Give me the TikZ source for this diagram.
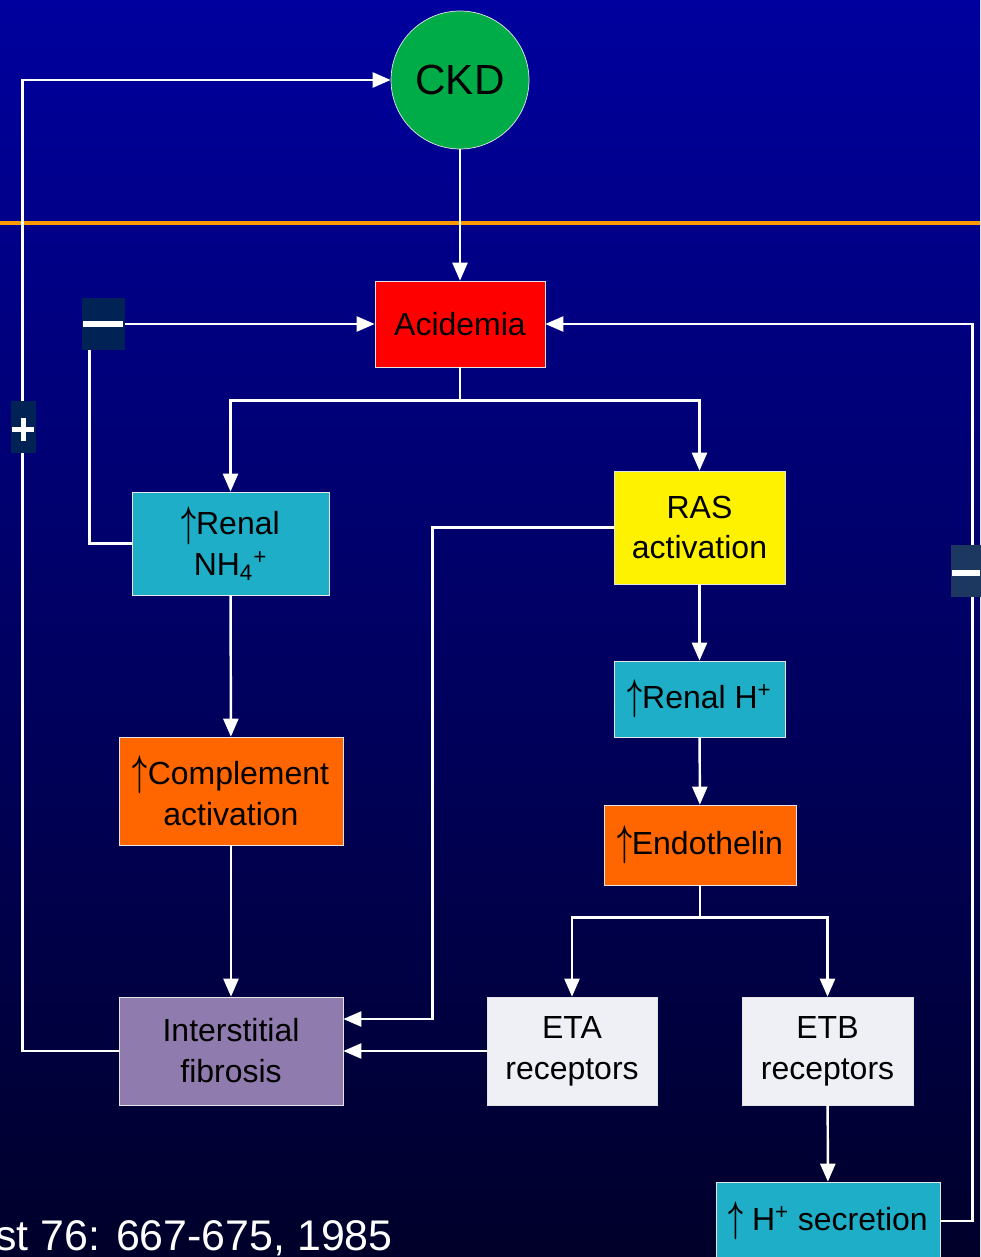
\documentclass[tikz,border=0pt]{standalone}
\usepackage{fontspec}
\usepackage{graphicx}
\setmainfont{Liberation Sans}
\usetikzlibrary{arrows.meta}

\definecolor{bgtop}{RGB}{0,0,158}
\definecolor{bgmid}{RGB}{0,0,125}
\definecolor{bgbot}{RGB}{0,0,42}
\definecolor{ckdgreen}{RGB}{0,172,72}
\definecolor{boxcyan}{RGB}{31,174,200}
\definecolor{boxorange}{RGB}{255,102,0}
\definecolor{boxpurple}{RGB}{143,123,174}
\definecolor{boxgray}{RGB}{238,240,245}
\definecolor{signblue}{RGB}{0,34,85}
\definecolor{signgrey}{RGB}{28,56,96}
\definecolor{lineorange}{RGB}{255,153,0}

\newcommand{\upar}{\raisebox{-0.04em}{\scalebox{0.85}[1.41]{\boldmath$\uparrow$}}}

\begin{document}
\begin{tikzpicture}[x=0.02cm, y=-0.02cm,
    box/.style={draw=white!80!gray, line width=0.4pt, align=center, text=black, inner sep=0pt,
      font=\fontsize{18.2}{23.3}\selectfont},
    conn/.style={draw=white, line width=1.4pt},
    arr/.style={conn, -{Triangle[length=0.36cm, width=0.3cm]}},
    sign/.style={inner sep=0pt, minimum width=0.86cm, minimum height=1.04cm}]
            \useasboundingbox (0,0) rectangle (980,1257);
            \shade[top color=bgtop, middle color=bgmid, bottom color=bgbot] (0,0) rectangle (980,1257);
            \draw[lineorange, line width=2.2pt] (0,223) -- (980,223);

            % boxes
            \node[box, circle, fill=ckdgreen, minimum size=2.76cm, font=\fontsize{24}{28}\selectfont] (ckd) at (460,80) {CKD};
            \node[box, fill=red, minimum width=3.4cm, minimum height=1.72cm] (acid) at (460,324) {Acidemia};
            \node[box, fill=boxcyan, minimum width=3.94cm, minimum height=2.06cm] (nh4) at (230.5,543.5) {\upar Renal\\NH\textsubscript{4}\textsuperscript{+}};
            \node[box, fill=yellow, minimum width=3.42cm, minimum height=2.26cm] (ras) at (699.5,527.5) {RAS\\activation};
            \node[box, fill=boxcyan, minimum width=3.42cm, minimum height=1.52cm] (renh) at (699.5,699) {\upar Renal H\textsuperscript{+}};
            \node[box, fill=boxorange, minimum width=4.48cm, minimum height=2.16cm] (compl) at (231,791) {\upar Complement\\activation};
            \node[box, fill=boxorange, minimum width=3.84cm, minimum height=1.6cm] (endo) at (700,845) {\upar Endothelin};
            \node[box, fill=boxpurple, minimum width=4.48cm, minimum height=2.16cm] (fibr) at (231,1051) {Interstitial\\fibrosis};
            \node[box, fill=boxgray, minimum width=3.4cm, minimum height=2.16cm] (eta) at (572,1051) {ETA\\receptors};
            \node[box, fill=boxgray, minimum width=3.42cm, minimum height=2.16cm] (etb) at (827.5,1051) {ETB\\receptors};
            \node[box, fill=boxcyan, minimum width=4.48cm, minimum height=1.56cm] (hsec) at (828,1221) {\upar\ H\textsuperscript{+} secretion};

            % connectors
            \draw[arr] (ckd) -- (acid);
            \draw[arr] (acid.south) -- ++(0,33) -| (nh4.north);
            \draw[arr] (acid.south) -- ++(0,33) -| (ras.north);
            \draw[arr] (nh4.west) -- ++(-42,0) |- (acid.west);
            \draw[arr] (nh4) -- (compl);
            \draw[arr] (compl) -- (fibr);
            \draw[arr] (fibr.west) -- ++(-96,0) |- (ckd.west);
            \draw[arr] (ras.west) -- ++(-181,0) |- ([yshift=0.64cm]fibr.east);
            \draw[arr] (ras) -- (renh);
            \draw[arr] (renh) -- (endo);
            \draw[arr] (endo.south) -- ++(0,32) -| (eta.north);
            \draw[arr] (endo.south) -- ++(0,32) -| (etb.north);
            \draw[arr] (eta) -- (fibr);
            \draw[arr] (etb) -- (hsec);
            \draw[arr] (hsec.east) -- ++(32,0) |- (acid.east);

            % signs on the loops
            \node[sign, fill=signblue] (negleft) at (103.5,324) {};
            \fill[white] (83,321) rectangle (123,327);
            \node[sign, fill=signblue, minimum width=0.5cm] (pos) at (23.5,427) {};
            \fill[white] (12,426.5) rectangle (34,432);
            \fill[white] (20.5,418) rectangle (26,441);
            \node[sign, fill=signgrey, minimum width=0.6cm] (negright) at (966,571) {};
            \fill[white] (952,570) rectangle (980,576);

            \node[anchor=base east, inner sep=0pt, text=white, font=\fontsize{24.4}{28}\selectfont] (cite) at (393,1250) {est 76: 667-675, 1985};
        \end{tikzpicture}
\end{document}
